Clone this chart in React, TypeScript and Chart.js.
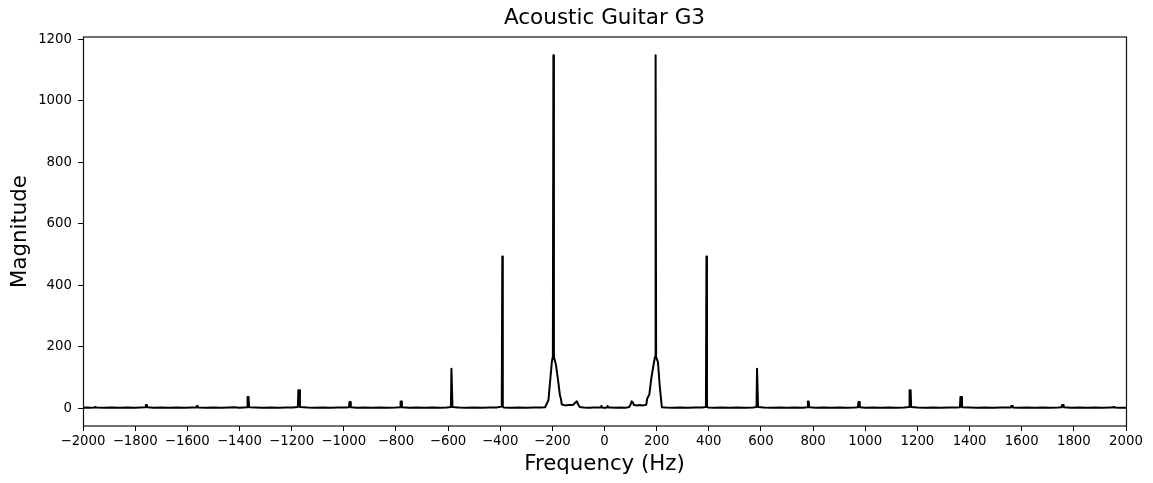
import { useEffect, useRef } from "react";
import { Chart, registerables } from "chart.js";

Chart.register(...registerables);

// Spectrum (Hz, magnitude)
const frequencies = [
  -2000, -1985, -1970, -1956, -1954, -1951, -1949, -1920, -1890, -1860, -1830, -1800,
  -1780, -1761, -1759, -1755, -1753, -1730, -1700, -1670, -1640, -1610, -1580,
  -1566, -1564, -1560, -1558, -1530, -1500, -1470, -1440, -1420, -1400, -1385,
  -1371, -1369, -1365, -1363, -1340, -1310, -1280, -1250, -1220, -1195,
  -1176, -1174, -1170, -1168, -1140, -1110, -1080, -1050, -1020, -995,
  -980, -978, -975, -973, -950, -920, -890, -860, -830, -800,
  -784, -782, -779, -777, -750, -720, -690, -660, -630, -605,
  -589, -587, -585, -583, -560, -530, -500, -470, -440, -415,
  -394, -392, -390, -386, -360, -330, -300, -270, -245,
  -228, -215, -202, -198, -196, -194, -186, -178, -171, -167, -164,
  -150, -140, -130, -120, -112, -106, -101, -95, -80, -60, -40, -25,
  -14, -12, -9, -3, 3, 9, 12, 14, 25, 40, 60, 80,
  95, 101, 104, 108, 113, 125, 135, 145, 155, 160, 164, 167, 172, 180, 190, 194, 196, 198, 205, 212, 220,
  235, 260, 290, 320, 350, 375,
  387, 389, 391, 393, 397, 420, 450, 480, 510, 540, 570,
  583, 585, 587, 589, 610, 640, 670, 700, 730, 760,
  778, 780, 783, 785, 810, 840, 870, 900, 930, 960,
  972, 974, 977, 979, 1000, 1030, 1060, 1090, 1120, 1150,
  1168, 1170, 1174, 1176, 1200, 1230, 1260, 1290, 1320, 1350,
  1363, 1365, 1369, 1371, 1400, 1430, 1460, 1490, 1520, 1545,
  1558, 1560, 1564, 1566, 1590, 1620, 1650, 1680, 1710, 1740,
  1753, 1755, 1759, 1761, 1790, 1820, 1850, 1880, 1910, 1940,
  1949, 1951, 1954, 1956, 1975, 2000,
];

const magnitudes = [
  1, 2, 1, 2, 4, 4, 2, 1, 2, 1, 2, 1,
  2, 3, 10, 10, 3, 1, 2, 1, 2, 1, 2,
  2, 7, 7, 2, 1, 2, 1, 2, 3, 1, 2,
  3, 36, 36, 3, 2, 1, 2, 1, 2, 2,
  4, 58, 58, 4, 2, 1, 2, 1, 2, 2,
  3, 20, 20, 3, 1, 2, 1, 2, 1, 2,
  3, 22, 22, 3, 1, 2, 1, 2, 1, 2,
  4, 128, 128, 4, 2, 1, 2, 1, 2, 2,
  5, 493, 5, 2, 1, 2, 1, 2, 2,
  3, 26, 150, 168, 1148, 166, 140, 90, 42, 30, 12,
  9, 10, 10, 11, 18, 22, 12, 4, 2, 1, 2, 2,
  2, 7, 2, 1, 1, 2, 7, 2, 2, 1, 2, 1,
  4, 14, 22, 20, 10, 9, 10, 9, 10, 11, 32, 36, 45, 100, 150, 168, 1148, 166, 150, 70, 3,
  2, 1, 2, 1, 2, 2,
  4, 5, 493, 5, 2, 1, 2, 1, 2, 1, 2,
  4, 128, 128, 4, 2, 1, 2, 1, 2, 1,
  3, 22, 22, 3, 1, 2, 1, 2, 1, 2,
  3, 20, 20, 3, 1, 2, 1, 2, 1, 2,
  4, 58, 58, 4, 2, 1, 2, 1, 2, 2,
  3, 36, 36, 3, 2, 1, 2, 1, 2, 2,
  2, 7, 7, 2, 1, 2, 1, 2, 1, 2,
  3, 10, 10, 3, 1, 2, 1, 2, 1, 2,
  2, 4, 4, 2, 1, 1,
];

const xTickValues = [
  -2000, -1800, -1600, -1400, -1200, -1000, -800, -600, -400, -200,
  0, 200, 400, 600, 800, 1000, 1200, 1400, 1600, 1800, 2000,
];
const yTickValues = [0, 200, 400, 600, 800, 1000, 1200];

const chartTitle = "Acoustic Guitar G3";
const xLabel = "Frequency (Hz)";
const yLabel = "Magnitude";

const FONT = "'DejaVu Sans', sans-serif";

const framePlugin = {
  id: "frame",
  afterDatasetsDraw(chart: any) {
    const { ctx, chartArea } = chart;
    const { left, top, right, bottom } = chartArea;
    ctx.save();
    ctx.strokeStyle = "#111";
    ctx.lineWidth = 1.2;
    ctx.strokeRect(left + 0.5, top, right - left, bottom - top);
    ctx.restore();
  },
};

const fmt = (v: any) => String(v).replace("-", "\u2212");

export default function App() {
  const canvasRef = useRef<HTMLCanvasElement | null>(null);

  useEffect(() => {
    if (!canvasRef.current) return;
    const points = frequencies.map((f, i) => ({ x: f, y: magnitudes[i] }));
    const chart = new Chart(canvasRef.current, {
      type: "line",
      data: {
        datasets: [
          {
            data: points,
            borderColor: "#000",
            borderWidth: 2,
            pointRadius: 0,
            tension: 0,
            fill: false,
            borderJoinStyle: "round",
          },
        ],
      },
      options: {
        animation: false,
        responsive: false,
        events: [],
        layout: { padding: { left: 0, right: 27, top: 0, bottom: 0 } },
        plugins: {
          legend: { display: false },
          tooltip: { enabled: false },
          title: {
            display: true,
            fullSize: false,
            text: chartTitle,
            color: "#000",
            font: { family: FONT, size: 21.5, weight: "normal" },
            padding: { top: 6, bottom: 5.2 },
          },
        },
        scales: {
          x: {
            type: "linear",
            min: -2000,
            max: 2000,
            afterBuildTicks: (s: any) => {
              s.ticks = xTickValues.map((v) => ({ value: v }));
            },
            afterFit: (s: any) => {
              s.height = 57;
              s.paddingLeft = 0;
              s.paddingRight = 0;
            },
            ticks: {
              autoSkip: false,
              maxRotation: 0,
              minRotation: 0,
              padding: 3,
              color: "#000",
              font: { family: FONT, size: 13.3 },
              callback: fmt,
            },
            grid: {
              drawOnChartArea: false,
              drawTicks: true,
              tickLength: 5,
              color: "#000",
              lineWidth: 1,
            },
            border: { display: false },
            title: {
              display: true,
              text: xLabel,
              color: "#000",
              font: { family: FONT, size: 21.3 },
              padding: { top: 0, bottom: 5.9 },
            },
          },
          y: {
            type: "linear",
            min: -58,
            max: 1207,
            afterBuildTicks: (s: any) => {
              s.ticks = yTickValues.map((v) => ({ value: v }));
            },
            afterFit: (s: any) => {
              s.width = 83;
              s.paddingTop = 0;
              s.paddingBottom = 0;
            },
            ticks: {
              padding: 6,
              color: "#000",
              font: { family: FONT, size: 13.3 },
              callback: fmt,
            },
            grid: {
              drawOnChartArea: false,
              drawTicks: true,
              tickLength: 5,
              color: "#000",
              lineWidth: 1,
            },
            border: { display: false },
            title: {
              display: true,
              text: yLabel,
              color: "#000",
              font: { family: FONT, size: 21.3 },
              padding: { top: 7.3, bottom: 0 },
            },
          },
        },
      },
      plugins: [framePlugin],
    });
    return () => chart.destroy();
  }, []);

  return (
    <div
      style={{
        position: "fixed",
        left: 0,
        top: 0,
        width: 1153,
        height: 483,
        background: "#fff",
      }}
    >
      <canvas ref={canvasRef} width={1153} height={483} style={{ display: "block" }} />
    </div>
  );
}
